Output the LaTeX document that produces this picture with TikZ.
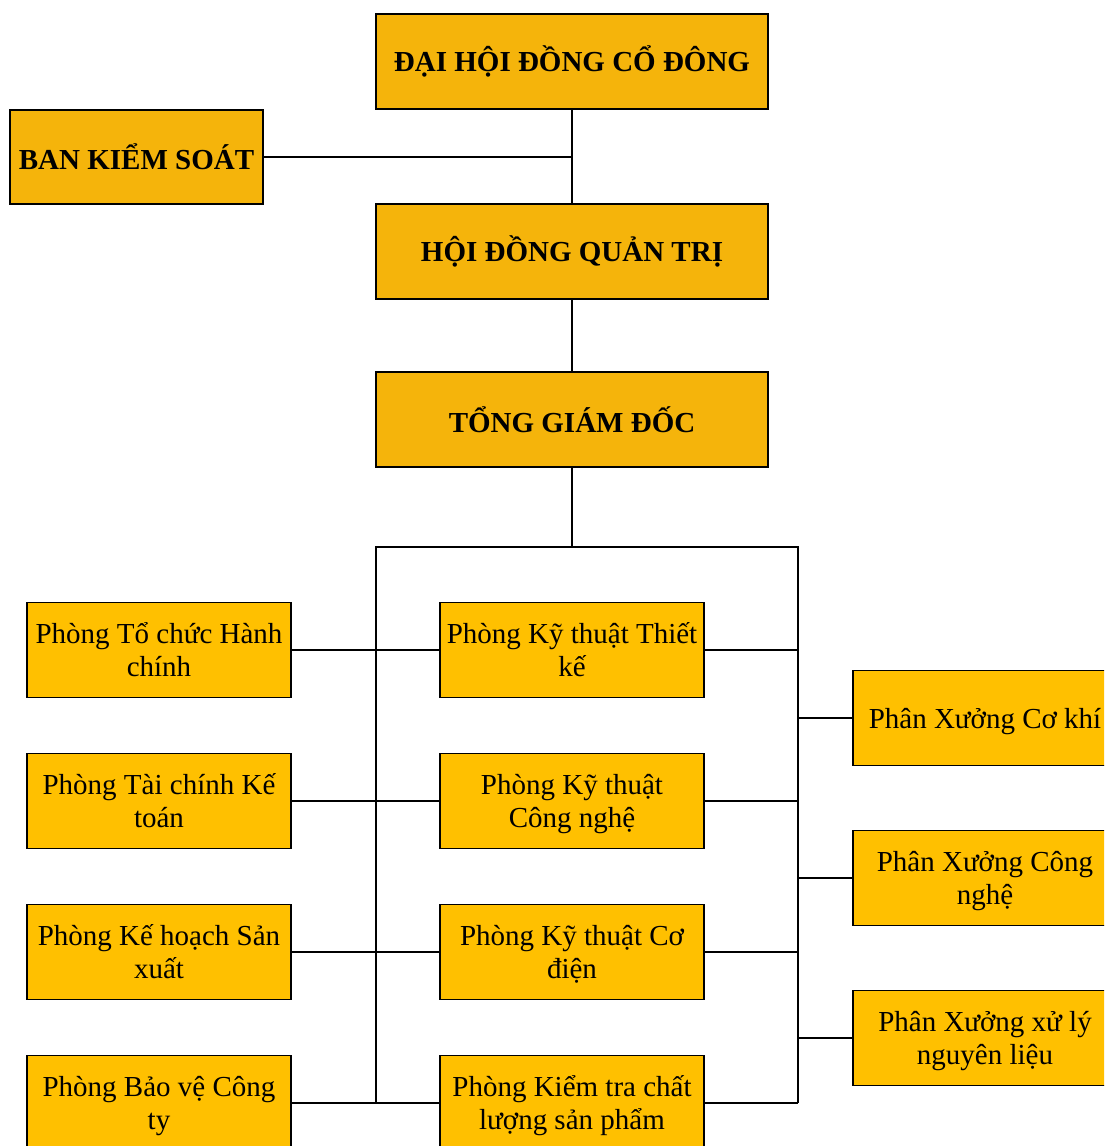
\documentclass[tikz,border=0pt]{standalone}
\usepackage{fontspec}
\setmainfont{Liberation Serif}
\definecolor{topfill}{HTML}{F5B40B}
\definecolor{boxfill}{HTML}{FFC000}
\newcommand\boxtext[1]{\raisebox{-3.5pt}[\height][\depth]{\begin{tabular}{@{}c@{}}#1\end{tabular}}}
\tikzset{
  topbox/.style={draw=black, fill=topfill, line width=1.5pt, minimum width=392pt, minimum height=95pt, inner sep=2pt, outer sep=0pt, font=\fontsize{29}{33}\selectfont\bfseries},
  unitbox/.style={draw=black, fill=boxfill, line width=1.5pt, minimum width=264pt, minimum height=95pt, inner sep=2pt, outer sep=0pt, font=\fontsize{29}{33}\selectfont},
  conn/.style={draw=black, line width=1.5pt}
}
\begin{document}
\begin{tikzpicture}[x=1pt,y=-1pt]
\path[use as bounding box, clip] (0,0) rectangle (1104,1146);
% top hierarchy
\node[topbox] (dh) at (572,61.5) {ĐẠI HỘI ĐỒNG CỔ ĐÔNG};
\node[topbox, minimum width=253pt, minimum height=94pt] (bks) at (136.5,157) {BAN KIỂM SOÁT};
\node[topbox] (hd) at (572,251.5) {HỘI ĐỒNG QUẢN TRỊ};
\node[topbox] (tgd) at (572,419.5) {TỔNG GIÁM ĐỐC};
% left column
\node[unitbox] (l1) at (159,650) {\boxtext{Phòng Tổ chức Hành\\chính}};
\node[unitbox] (l2) at (159,801) {\boxtext{Phòng Tài chính Kế\\toán}};
\node[unitbox] (l3) at (159,952) {\boxtext{Phòng Kế hoạch Sản\\xuất}};
\node[unitbox] (l4) at (159,1103) {\boxtext{Phòng Bảo vệ Công\\ty}};
% middle column
\node[unitbox] (m1) at (572,650) {\boxtext{Phòng Kỹ thuật Thiết\\kế}};
\node[unitbox] (m2) at (572,801) {\boxtext{Phòng Kỹ thuật\\Công nghệ}};
\node[unitbox] (m3) at (572,952) {\boxtext{Phòng Kỹ thuật Cơ\\điện}};
\node[unitbox] (m4) at (572,1103) {\boxtext{Phòng Kiểm tra chất\\lượng sản phẩm}};
% right column
\node[unitbox] (r1) at (985,718) {\boxtext{Phân Xưởng Cơ khí}};
\node[unitbox] (r2) at (985,878) {\boxtext{Phân Xưởng Công\\nghệ}};
\node[unitbox] (r3) at (985,1038) {\boxtext{Phân Xưởng xử lý\\nguyên liệu}};
% connectors
\draw[conn] (dh.south) -- (hd.north);
\draw[conn] (bks.east) -- (bks.east -| dh.south);
\draw[conn] (hd.south) -- (tgd.north);
\coordinate (bus) at (572,547);
\coordinate (bl) at (376,547);
\coordinate (br) at (798,547);
\coordinate (bl2) at (376,1103);
\coordinate (br2) at (798,1103);
\draw[conn] (tgd.south) -- (bus);
\draw[conn] (bl2) -- (bl) -- (br) -- (br2);
\draw[conn] (l1.east) -- (m1.west);
\draw[conn] (l2.east) -- (m2.west);
\draw[conn] (l3.east) -- (m3.west);
\draw[conn] (l4.east) -- (m4.west);
\draw[conn] (m1.east) -- (m1.east -| br);
\draw[conn] (m2.east) -- (m2.east -| br);
\draw[conn] (m3.east) -- (m3.east -| br);
\draw[conn] (m4.east) -- (m4.east -| br);
\draw[conn] (r1.west) -- (r1.west -| br);
\draw[conn] (r2.west) -- (r2.west -| br);
\draw[conn] (r3.west) -- (r3.west -| br);
\end{tikzpicture}
\end{document}
